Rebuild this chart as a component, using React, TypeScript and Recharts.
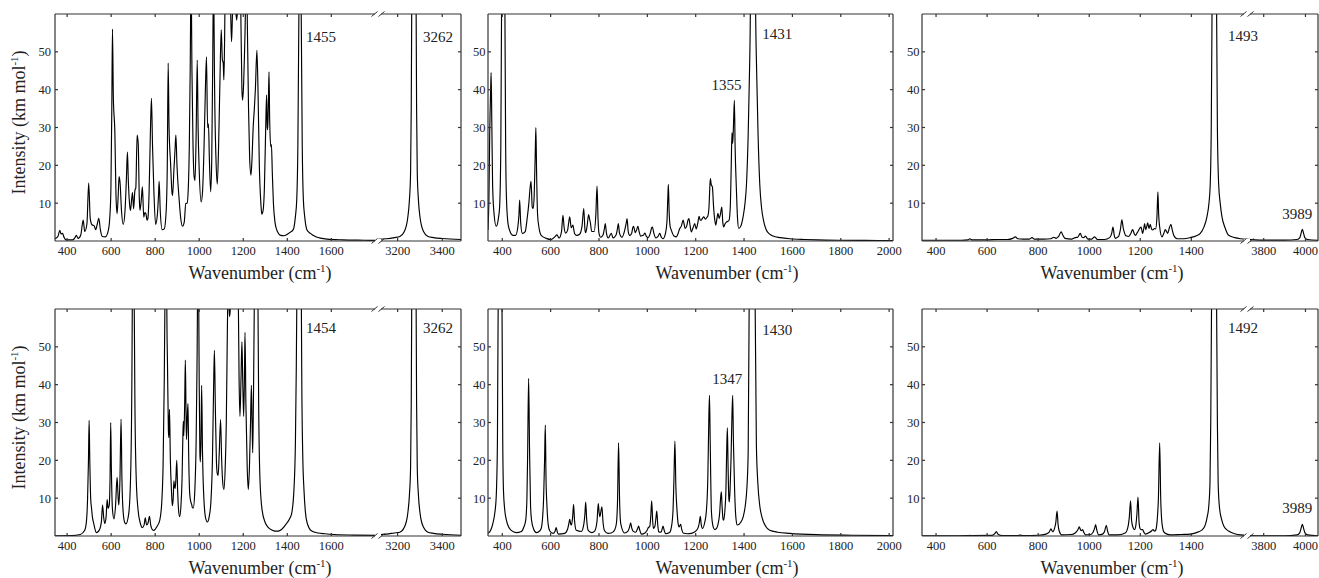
import { LineChart, Line, XAxis, YAxis, ReferenceDot } from 'recharts';

type Pt = [number, number];
type Note = { text: string; wn: number; ir: number };

// wavenumber (cm-1), intensity (km/mol)
const tlLow: Pt[] = [[345,0.6],[358,1.2],[367,2.8],[372,1.9],[379,2.0],[386,1.0],[395,0.3],[425,0.3],[436,0.9],[442,1.5],[450,0.7],[462,1.6],[473,5.5],[480,2.5],[490,4.5],[498,15.3],[505,6],[513,4.3],[523,4.0],[530,3.0],[537,4.5],[544,6],[551,3],[560,1.2],[574,1.1],[588,3],[594,6.4],[599,14],[603,35],[606,56],[610,38],[617,28.4],[622,12],[627,7.2],[632,12],[636,17],[641,15],[647,8],[655,4.4],[663,8],[669,16],[674,23.5],[678,16],[685,9],[688,8.1],[693,11],[697,12.8],[702,8.5],[708,13.4],[712,14],[718,28],[723,25.7],[728,11],[731,8.1],[737,11],[742,14.3],[748,6.3],[753,7.5],[758,7.2],[763,5.5],[767,6],[772,12],[778,28],[783,37.7],[788,25],[794,13.4],[802,4.4],[810,7],[815,12],[818,15.8],[823,8],[832,3],[841,3.2],[850,8],[855,20],[859,47],[863,30],[870,20.5],[876,13],[879,12],[885,18.7],[890,24],[894,28],[899,20],[909,10.8],[916,6],[924,3.9],[932,5],[939,9.9],[945,10],[950,13.4],[955,25],[959,45],[961,60],[963,90],[965,60],[967,45],[972,25],[977,17],[981,16],[986,28],[991,47.8],[995,30],[1000,18.7],[1009,10.3],[1015,13],[1022,25],[1028,40],[1033,48.7],[1038,30],[1042,31],[1046,22],[1052,13],[1057,22],[1061,45],[1063,60],[1065,90],[1067,60],[1070,40],[1076,22],[1082,15],[1088,25],[1094,42],[1100,55.8],[1105,48],[1109,47],[1112,42.6],[1115,52],[1117,62],[1125,90],[1140,66],[1143,60],[1147,52.7],[1151,60],[1158,70],[1165,62],[1170,58.4],[1175,62],[1182,75],[1189,60],[1194,40],[1197,37.2],[1202,42],[1205,48],[1210,62],[1213,80],[1218,60],[1224,35],[1229,22],[1235,17.4],[1240,22],[1245,30],[1250,34.6],[1255,40],[1262,50.4],[1267,40],[1273,20],[1280,10],[1284,7.1],[1290,8],[1296,14],[1302,30],[1306,38.6],[1309,30],[1311,29.4],[1314,36],[1317,44.7],[1320,32],[1325,24.9],[1328,25.5],[1332,18],[1337,10],[1344,5],[1355,2.5],[1370,1.5],[1385,1.4],[1398,1.7],[1410,2.2],[1427,3],[1437,6.5],[1443,11],[1448,25],[1452,55],[1453,62],[1458,110],[1463,62],[1464,55],[1468,25],[1473,11],[1479,6.5],[1489,3],[1505,2],[1530,1.1],[1580,0.5],[1650,0.3],[1750,0.2],[1812,0.15]];
const tlHigh: Pt[] = [[3112,0.45],[3150,0.6],[3185,0.9],[3210,1.2],[3230,2.5],[3245,6],[3253,11],[3258,18],[3261,35],[3263,60],[3273,180],[3283,60],[3285,35],[3288,18],[3293,11],[3301,6],[3316,2.5],[3336,1.2],[3361,0.9],[3400,0.65],[3484,0.4]];

const tmAll: Pt[] = [[341,2.9],[345,12],[348,28],[352,40],[354,44.5],[357,30],[360,15],[365,8],[375,3.9],[384,6],[389,9],[394,25],[397,60],[404,200],[411,60],[414,25],[417,12],[423,5],[430,2.9],[444,1.5],[455,1.5],[464,3.5],[469,7],[472,10.8],[476,5],[483,2],[495,2.5],[503,6],[510,10],[515,14],[519,15.8],[524,9],[528,8.6],[532,12],[536,22],[539,30],[542,18],[546,7],[552,3.5],[561,1.5],[582,0.7],[603,0.4],[617,1.1],[626,1.6],[635,0.8],[645,2.5],[651,6.8],[656,3.5],[662,2.1],[670,2.8],[675,5],[679,6.4],[685,3.5],[692,4.2],[699,2],[708,1.5],[720,1.8],[730,4],[737,8.6],[742,3],[745,2.2],[751,4],[757,7],[762,5.5],[764,5],[770,2.5],[780,2.5],[787,7],[792,14.5],[796,6],[800,2],[807,1],[816,1.5],[823,3.5],[826,4.6],[831,2],[838,0.8],[851,2],[858,0.8],[870,1.5],[877,3.5],[880,4.6],[885,2],[895,1],[905,2.5],[912,4.5],[916,5.9],[921,2.5],[927,1.5],[935,2],[940,3.6],[943,3.9],[950,2.2],[956,3],[961,3.9],[966,2.5],[972,1.3],[983,1.5],[990,2.1],[996,1.2],[1003,0.9],[1012,2],[1018,3.5],[1021,3.7],[1027,2],[1035,0.8],[1045,1.3],[1051,2],[1058,1],[1065,0.6],[1075,2],[1081,5],[1085,12],[1087,15],[1090,8],[1094,4],[1099,2.9],[1110,1.3],[1120,1.1],[1127,2],[1134,3.3],[1141,4],[1148,5.5],[1152,4.5],[1156,3.3],[1163,4],[1168,5.5],[1172,5.9],[1177,4],[1182,2.4],[1189,3.5],[1196,4.6],[1202,3.2],[1208,4.5],[1214,6.5],[1219,5.5],[1223,5.5],[1228,6],[1233,6.4],[1240,5.8],[1246,6.2],[1251,6.8],[1255,9],[1259,15],[1261,16.5],[1264,15],[1269,14.3],[1274,9],[1279,5.5],[1283,4.2],[1288,6],[1292,7.3],[1297,6],[1302,7],[1306,8.5],[1308,9],[1312,5],[1316,3.7],[1321,4.5],[1327,5],[1333,5.2],[1338,5.5],[1343,9],[1347,20],[1350,28.6],[1353,25.8],[1356,30],[1360,37.2],[1363,25],[1368,14.3],[1373,6],[1378,3.3],[1387,4],[1396,6.4],[1404,10],[1410,15],[1417,28],[1421,40],[1426,60],[1437,220],[1448,60],[1452,45],[1458,28],[1465,15],[1472,9],[1482,5],[1492,2.9],[1506,1.8],[1520,1.3],[1550,0.9],[1589,0.6],[1650,0.4],[1700,0.3],[1796,0.2],[1900,0.15],[2016,0.12]];

const trLow: Pt[] = [[345,0.2],[400,0.2],[500,0.2],[525,0.3],[532,0.6],[540,0.3],[600,0.3],[639,0.4],[680,0.4],[700,0.7],[711,1.1],[720,0.6],[740,0.5],[765,0.5],[776,0.9],[785,0.5],[822,0.5],[850,0.6],[861,1.0],[870,0.7],[880,1.2],[890,2.4],[897,1.5],[905,0.7],[930,0.5],[946,0.9],[955,1.0],[965,2.0],[972,1.0],[978,0.9],[985,1.3],[995,0.5],[1010,0.5],[1021,1.1],[1032,0.4],[1060,0.4],[1080,0.9],[1088,2],[1093,3.7],[1098,1.5],[1102,0.7],[1115,1.2],[1122,3],[1128,5.6],[1133,3.5],[1137,2.4],[1142,1.5],[1147,1.3],[1155,1.2],[1163,2],[1170,3],[1176,2],[1181,1.5],[1188,2.2],[1194,2.9],[1199,3.5],[1203,3.7],[1209,2],[1214,3.5],[1217,4.6],[1221,3],[1226,4],[1229,4.8],[1234,3.3],[1239,4.4],[1244,3.2],[1249,2.9],[1255,3.3],[1260,3.2],[1265,6],[1269,13],[1272,7],[1276,3.7],[1285,1.1],[1293,2.2],[1298,3],[1303,2.5],[1307,2],[1314,3.5],[1320,4.4],[1325,3],[1331,1.5],[1344,0.6],[1370,0.6],[1396,0.9],[1420,1.4],[1435,2],[1450,3.8],[1461,6.4],[1469,10],[1474,15],[1478,30],[1481,60],[1490,250],[1499,60],[1502,30],[1507,15],[1513,10],[1520,6.4],[1532,3.5],[1546,1.5],[1570,0.9],[1592,0.6],[1618,0.45]];
const trHigh: Pt[] = [[3720,0.45],[3760,0.3],[3800,0.25],[3900,0.25],[3960,0.4],[3973,0.9],[3979,2],[3985,3.1],[3991,2],[3997,0.9],[4010,0.4],[4060,0.2]];

const blLow: Pt[] = [[345,0.05],[420,0.1],[460,0.4],[480,1.5],[488,4],[493,10],[497,20],[500,30.6],[503,20],[507,10],[511,7.3],[515,5],[521,3.3],[533,0.9],[548,1.8],[556,4],[561,8.2],[566,5],[571,3.3],[577,5],[582,9.6],[586,7.3],[591,8],[595,15],[598,30],[601,18],[606,7],[613,4.5],[620,8],[627,15.5],[632,10],[635,8.2],[640,15],[645,30.9],[649,15],[655,6],[662,3.5],[667,3.2],[680,6],[688,15],[694,40],[696,60],[700,150],[705,60],[708,35],[714,15],[722,7],[732,3.5],[742,2.2],[750,3],[755,4.8],[761,2.9],[768,3.5],[774,5.2],[780,2.8],[787,1.7],[794,1.5],[808,2.5],[821,4.2],[830,9],[836,19],[841,40],[844,60],[850,150],[853,60],[856,45],[860,28],[862,26],[865,33.5],[869,20],[874,12],[878,8],[882,10],[885,14.6],[888,13],[891,12.6],[894,15],[898,20],[902,12],[906,7],[911,5.1],[917,8],[922,15],[926,27],[928,30.3],[930,26.5],[934,35],[937,46.5],[940,33],[942,25.5],[946,32],[949,35],[952,22],[957,11],[962,9],[966,8.3],[969,7.5],[973,7.4],[980,12],[986,25],[990,45],[992,60],[995,120],[998,60],[1000,40],[1003,22],[1005,19.6],[1008,25],[1011,39.8],[1015,22],[1022,9],[1030,4.5],[1037,3.7],[1045,5],[1053,9],[1060,20],[1065,38],[1069,49.1],[1073,35],[1078,20],[1082,16.5],[1086,16],[1091,22],[1097,30.8],[1102,20],[1107,14],[1112,12.3],[1118,18],[1123,30],[1127,50],[1129,60],[1133,75],[1136,60],[1138,58],[1141,60],[1150,90],[1165,80],[1175,65],[1178,60],[1181,42],[1185,31.6],[1190,42],[1194,51.3],[1198,40],[1202,31.6],[1206,45],[1208,53.8],[1212,35],[1218,18],[1223,12.3],[1228,18],[1233,30],[1237,39.8],[1240,30],[1243,22],[1246,35],[1250,60],[1258,200],[1267,60],[1270,35],[1276,14.8],[1286,6.7],[1300,3.5],[1313,2.3],[1330,1.6],[1345,1.3],[1359,1.3],[1375,1.8],[1395,3.2],[1410,4.5],[1420,6],[1430,12],[1437,25],[1441,45],[1443,60],[1454,200],[1464,60],[1466,40],[1470,22],[1476,12],[1482,6.5],[1490,3.5],[1511,1.3],[1540,0.8],[1571,0.6],[1617,0.4],[1700,0.25],[1812,0.15]];
const blHigh: Pt[] = [[3112,0.3],[3150,0.5],[3185,0.8],[3210,1.0],[3230,2.3],[3245,5.8],[3253,11],[3258,18],[3261,35],[3263,60],[3273,180],[3283,60],[3285,35],[3288,18],[3293,11],[3301,5.8],[3316,2.3],[3336,1.0],[3361,0.7],[3400,0.45],[3484,0.2]];

const bmAll: Pt[] = [[341,0.7],[352,1.5],[361,3.3],[369,6],[375,10.4],[380,25],[383,60],[391,250],[399,60],[402,25],[405,12],[410,7],[417,4.2],[427,2.3],[437,1.5],[458,0.9],[479,1.2],[490,2.5],[497,4.2],[502,10],[505,22],[509,41.7],[513,22],[517,8],[521,4.2],[530,1.8],[541,0.9],[552,1.2],[561,2],[567,5],[571,10],[575,20],[578,29.3],[581,15],[585,7.7],[590,3],[596,1.4],[610,0.7],[618,1.2],[623,2.2],[628,1],[633,0.5],[658,0.7],[670,1.8],[676,3.5],[679,4.4],[684,3],[686,2.9],[691,5],[695,8.3],[699,4],[706,1.5],[727,1.2],[737,3],[742,6],[745,9],[749,4.5],[756,1.4],[770,0.9],[782,1.3],[792,4],[797,8.6],[801,6],[804,5.1],[808,6.5],[812,7.7],[817,3.5],[823,1.4],[837,0.7],[851,0.8],[865,1.6],[872,3.3],[877,10],[881,24.6],[885,10],[890,3.3],[906,0.8],[920,1.3],[927,2.5],[931,3.5],[936,2],[941,1.3],[952,1],[960,2],[964,2.6],[969,1.5],[975,0.5],[990,0.8],[999,1.5],[1004,2.2],[1010,2.5],[1014,5],[1018,9.3],[1022,4],[1025,2],[1031,2.5],[1036,5],[1039,6.6],[1043,3],[1047,1.1],[1057,1],[1062,2],[1065,2.6],[1070,1.4],[1076,0.6],[1092,0.9],[1099,2.2],[1106,6.5],[1110,15],[1114,25.1],[1118,13],[1123,6.5],[1128,3],[1131,2.4],[1135,2.8],[1138,3.1],[1142,1.8],[1148,0.8],[1165,0.6],[1182,0.7],[1200,1.3],[1210,2.2],[1215,3.5],[1219,5.2],[1223,3],[1228,2],[1237,3.5],[1244,6.5],[1250,15],[1254,30],[1257,37.2],[1260,25],[1265,6.5],[1272,2.5],[1279,1.7],[1286,2],[1292,3],[1299,6],[1303,10],[1306,11.7],[1309,8],[1313,4.5],[1316,4.2],[1321,7],[1325,12],[1328,22],[1331,28.6],[1334,18],[1337,10],[1339,9],[1342,12],[1346,20],[1350,32],[1353,37.2],[1356,25],[1361,12],[1366,5],[1372,2.9],[1385,3.5],[1396,5],[1405,8],[1412,13],[1417,22],[1421,60],[1434,300],[1446,60],[1451,24],[1457,14],[1465,8],[1474,5],[1490,2.5],[1506,1.5],[1540,1],[1589,0.7],[1700,0.35],[1850,0.2],[2016,0.1]];

const brLow: Pt[] = [[345,0.05],[450,0.05],[525,0.1],[532,0.2],[540,0.1],[620,0.15],[630,0.6],[636,1.2],[642,0.5],[660,0.1],[720,0.1],[730,0.25],[740,0.1],[800,0.2],[830,0.5],[843,1.0],[850,1.9],[855,1.3],[858,1.1],[864,2],[869,3.5],[874,6.6],[878,3],[883,1.2],[893,0.3],[930,0.4],[945,0.8],[955,1.6],[961,2.4],[966,1.6],[969,1.4],[974,1.7],[979,0.9],[985,0.3],[1005,0.4],[1015,1.0],[1021,2],[1025,3.0],[1030,1.5],[1037,0.3],[1052,0.5],[1060,1.2],[1067,2.8],[1072,1.3],[1078,0.3],[1110,0.3],[1141,0.8],[1152,2.5],[1157,5],[1162,9.3],[1166,4],[1172,2.2],[1178,1.7],[1183,3],[1187,6],[1191,10.3],[1195,4],[1199,2],[1204,1.7],[1209,1.7],[1215,0.9],[1220,0.5],[1235,0.9],[1245,1.4],[1250,1.7],[1256,1.3],[1260,1.5],[1266,4],[1271,10],[1276,24.6],[1280,10],[1283,5],[1288,2],[1292,1.1],[1305,0.5],[1318,0.3],[1360,0.4],[1396,0.5],[1420,0.9],[1442,1.6],[1455,3],[1462,5],[1468,7.7],[1473,14],[1476,30],[1479,60],[1489,300],[1499,60],[1502,30],[1505,14],[1510,7.7],[1518,4.5],[1528,2.5],[1546,1.3],[1570,0.6],[1592,0.3],[1618,0.2]];
const brHigh: Pt[] = [[3720,0.1],[3800,0.05],[3900,0.05],[3960,0.3],[3973,0.9],[3979,2],[3985,3.1],[3991,2],[3997,0.9],[4010,0.3],[4060,0.05]];

const ticksLow1 = [400, 600, 800, 1000, 1200, 1400, 1600];
const ticksHigh1 = [3200, 3400];
const ticksMid = [400, 600, 800, 1000, 1200, 1400, 1600, 1800, 2000];
const ticksLow3 = [400, 600, 800, 1000, 1200, 1400];
const ticksHigh3 = [3800, 4000];
const yTicks = [10, 20, 30, 40, 50];

const tlNotes: Note[] = [{ text: '1455', wn: 1553, ir: 54 }];
const tlHighNotes: Note[] = [{ text: '3262', wn: 3381, ir: 54 }];
const tmNotes: Note[] = [{ text: '1431', wn: 1537, ir: 54.8 }, { text: '1355', wn: 1327, ir: 41.3 }];
const trNotes: Note[] = [{ text: '1493', wn: 1602, ir: 54.2 }];
const trHighNotes: Note[] = [{ text: '3989', wn: 3961, ir: 7.3 }];
const blNotes: Note[] = [{ text: '1454', wn: 1553, ir: 55 }];
const blHighNotes: Note[] = [{ text: '3262', wn: 3381, ir: 55 }];
const bmNotes: Note[] = [{ text: '1430', wn: 1537, ir: 54.6 }, { text: '1347', wn: 1331, ir: 41.7 }];
const brNotes: Note[] = [{ text: '1492', wn: 1602, ir: 55 }];
const brHighNotes: Note[] = [{ text: '3989', wn: 3961, ir: 7.4 }];

const W = 1319;
const H = 578;
const SERIF = '"Liberation Serif", "Times New Roman", serif';
const FRAME = '#333';
const INK = '#222';

type SubProps = {
  pts: Pt[];
  domain: [number, number];
  ticks: number[];
  x0: number;
  x1: number;
  y0: number;
  y1: number;
  left: boolean;
  right: boolean;
  gap: number;
  notes: Note[];
};

// axes get a 1px box (a 0px box is not drawn), margins make up the rest
function Spectrum({ pts, domain, ticks, x0, x1, y0, y1, left, right, gap, notes }: SubProps) {
  const rows = pts.map(([wn, ir]) => ({ wn, ir }));
  const tickFont = { fill: INK, fontSize: 12.5, fontFamily: SERIF };
  const blank = () => '';
  const frame = { stroke: FRAME, strokeWidth: 1.2 };
  const margin = {
    top: y0 - 1,
    bottom: H - y1 - 1,
    left: left ? x0 - 1 : x0,
    right: right ? W - x1 - 1 : W - x1,
  };
  return (
    <div style={{ position: 'absolute', left: 0, top: 0 }}>
      <LineChart width={W} height={H} data={rows} margin={margin}>
        <XAxis xAxisId="b" dataKey="wn" type="number" domain={domain} ticks={ticks} interval={0}
          allowDataOverflow height={1} tickSize={-3} tickMargin={8} axisLine={frame} tickLine={frame} tick={tickFont} />
        <XAxis xAxisId="t" orientation="top" dataKey="wn" type="number" domain={domain} ticks={ticks} interval={0}
          allowDataOverflow height={1} tickSize={-3} axisLine={frame} tickLine={frame} tickFormatter={blank} />
        <YAxis yAxisId="v" orientation={left ? 'left' : 'right'} type="number" domain={[0, 60]} ticks={yTicks} interval={0}
          allowDataOverflow width={1} tickSize={-3} tickMargin={3 + gap} axisLine={frame} tickLine={frame}
          tick={tickFont} tickFormatter={left ? undefined : blank} />
        {left && right && (
          <YAxis yAxisId="r" orientation="right" type="number" domain={[0, 60]} ticks={yTicks} interval={0}
            allowDataOverflow width={1} tickSize={-3} axisLine={frame} tickLine={frame} tickFormatter={blank} />
        )}
        <Line xAxisId="b" yAxisId="v" dataKey="ir" type="monotone" dot={false} activeDot={false}
          stroke="#000" strokeWidth={1.15} isAnimationActive={false} />
        {notes.map((n) => (
          <ReferenceDot key={n.text} xAxisId="b" yAxisId="v" x={n.wn} y={n.ir} r={1} fill="none" stroke="none"
            ifOverflow="visible"
            label={{ value: n.text, position: 'center', fill: INK, fontSize: 15, fontFamily: SERIF }} />
        ))}
      </LineChart>
    </div>
  );
}

const rowsY = [
  { y0: 14, y1: 241 },
  { y0: 309, y1: 536 },
];

function Cut({ x, y }: { x: number; y: number }) {
  return (
    <g stroke={FRAME} strokeWidth={1}>
      <rect x={x - 3} y={y - 2} width={6} height={4} fill="#fff" stroke="none" />
      <line x1={x - 6.5} y1={y + 2.5} x2={x - 0.5} y2={y - 2.5} />
      <line x1={x + 0.5} y1={y + 2.5} x2={x + 6.5} y2={y - 2.5} />
    </g>
  );
}

function Titles() {
  const xTitle = (cx: number, by: number) => (
    <text key={`${cx}-${by}`} x={cx} y={by} textAnchor="middle" fontFamily={SERIF} fontSize={18} fill={INK}>
      Wavenumber (cm<tspan dy={-7} fontSize={11}>-1</tspan><tspan dy={7}>)</tspan>
    </text>
  );
  const yTitle = (cy: number) => (
    <text key={cy} x={25} y={cy} transform={`rotate(-90 25 ${cy})`} textAnchor="middle" fontFamily={SERIF} fontSize={18} fill={INK}>
      Intensity (km mol<tspan dy={-7} fontSize={11}>-1</tspan><tspan dy={7}>)</tspan>
    </text>
  );
  return (
    <svg width={W} height={H} style={{ position: 'absolute', left: 0, top: 0, pointerEvents: 'none' }}>
      {xTitle(260, 279)}
      {xTitle(727, 279)}
      {xTitle(1112, 279)}
      {xTitle(260, 573.5)}
      {xTitle(727, 573.5)}
      {xTitle(1112, 573.5)}
      {yTitle(122.5)}
      {yTitle(417.5)}
      {rowsY.map((r) =>
        [378, 1247].map((bx) => (
          <g key={`${bx}-${r.y0}`}>
            <Cut x={bx} y={r.y0} />
            <Cut x={bx} y={r.y1} />
          </g>
        ))
      )}
    </svg>
  );
}

export default function App() {
  const [top, bot] = rowsY;
  return (
    <div style={{ position: 'absolute', left: 0, top: 0, width: W, height: H, background: '#fff', overflow: 'hidden' }}>
      <Spectrum pts={tlLow} domain={[345, 1812]} ticks={ticksLow1} x0={55} x1={378} {...top} left right={false} gap={4} notes={tlNotes} />
      <Spectrum pts={tlHigh} domain={[3112, 3484]} ticks={ticksHigh1} x0={378} x1={461} {...top} left={false} right gap={4} notes={tlHighNotes} />
      <Spectrum pts={tmAll} domain={[341, 2016]} ticks={ticksMid} x0={488} x1={893} {...top} left right gap={2.5} notes={tmNotes} />
      <Spectrum pts={trLow} domain={[345, 1618]} ticks={ticksLow3} x0={922} x1={1247} {...top} left right={false} gap={2.5} notes={trNotes} />
      <Spectrum pts={trHigh} domain={[3720, 4060]} ticks={ticksHigh3} x0={1247} x1={1318} {...top} left={false} right gap={2.5} notes={trHighNotes} />

      <Spectrum pts={blLow} domain={[345, 1812]} ticks={ticksLow1} x0={55} x1={378} {...bot} left right={false} gap={4} notes={blNotes} />
      <Spectrum pts={blHigh} domain={[3112, 3484]} ticks={ticksHigh1} x0={378} x1={461} {...bot} left={false} right gap={4} notes={blHighNotes} />
      <Spectrum pts={bmAll} domain={[341, 2016]} ticks={ticksMid} x0={488} x1={893} {...bot} left right gap={2.5} notes={bmNotes} />
      <Spectrum pts={brLow} domain={[345, 1618]} ticks={ticksLow3} x0={922} x1={1247} {...bot} left right={false} gap={2.5} notes={brNotes} />
      <Spectrum pts={brHigh} domain={[3720, 4060]} ticks={ticksHigh3} x0={1247} x1={1318} {...bot} left={false} right gap={2.5} notes={brHighNotes} />
      <Titles />
    </div>
  );
}
